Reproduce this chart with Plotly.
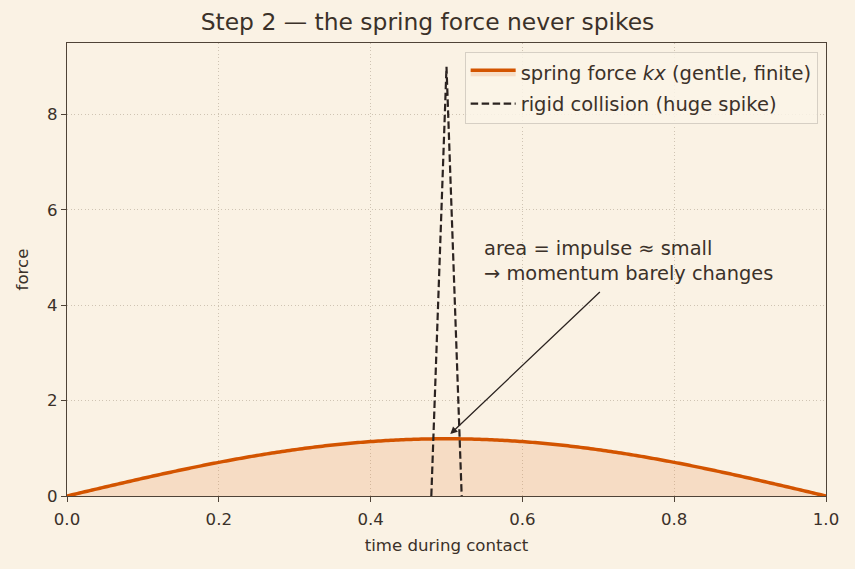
import numpy as np
import plotly.graph_objects as go

# data
t = np.linspace(0, 1, 301)
spring_peak = 1.2
spring_force = spring_peak * np.sin(np.pi * t)
spike_t = [0.48, 0.50, 0.52]
spike_f = [0.0, 9.0, 0.0]
x_ticks = [0.0, 0.2, 0.4, 0.6, 0.8, 1.0]
y_ticks = [0, 2, 4, 6, 8]

BG = "#faf2e4"
TXT = "#3b3129"
ORANGE = "#d35400"
DARK = "#2b2320"
GRID = "#cfc4b3"
SPINE = "#4f4337"
FONT = "DejaVu Sans"

fig = go.Figure()
fig.add_trace(go.Scatter(x=t, y=spring_force, mode="lines", fill="tozeroy",
                         fillcolor="rgba(230,140,80,0.22)",
                         line=dict(color=ORANGE, width=3.5, simplify=False),
                         legendgroup="a",
                         name="spring force <i>kx</i> (gentle, finite)"))
fig.add_trace(go.Scatter(x=spike_t, y=spike_f, mode="lines",
                         line=dict(color=DARK, width=2.2, dash="7.5px,3.5px"),
                         legendgroup="b",
                         name="rigid collision (huge spike)"))

fig.add_annotation(x=0.505, y=1.3, ax=0.704, ay=4.31, xref="x", yref="y",
                   axref="x", ayref="y", text="", showarrow=True,
                   arrowhead=2, arrowsize=1.1, arrowwidth=1.3, arrowcolor=DARK)
fig.add_annotation(x=0.547, y=4.38, xref="x", yref="y", xanchor="left", yanchor="bottom",
                   text="area = impulse ≈ small<br>→ momentum barely changes",
                   showarrow=False, align="left",
                   font=dict(family=FONT, size=19.4, color=TXT))

axis_common = dict(showline=True, linecolor=SPINE, linewidth=1.3, mirror=True,
                   ticks="outside", ticklen=5, tickcolor=SPINE,
                   showgrid=True, gridcolor=GRID, griddash="1px,2.5px", gridwidth=1,
                   zeroline=False, automargin=False,
                   tickfont=dict(family=FONT, size=16.6, color=TXT),
                   title_font=dict(family=FONT, size=16.6, color=TXT))

fig.update_xaxes(range=[0, 1], tickvals=x_ticks, tickformat=".1f", ticklabelstandoff=3,
                 title_text="time during contact", title_standoff=11, **axis_common)
fig.update_yaxes(range=[0, 9.5], tickvals=y_ticks,
                 title_text="force", title_standoff=14, **axis_common)

fig.update_layout(
    width=855, height=569,
    paper_bgcolor=BG, plot_bgcolor=BG,
    margin=dict(l=67, r=29, t=43, b=73),
    title=dict(text="Step 2 — the spring force never spikes", x=0.5, xanchor="center",
               y=0.962, yanchor="middle",
               font=dict(family=FONT, size=23.4, color=TXT)),
    showlegend=True,
    legend=dict(x=0.989, y=0.98, xanchor="right", yanchor="top", itemwidth=45,
                bgcolor="rgba(250,244,232,0.85)", bordercolor="#d6cfc4", borderwidth=1,
                font=dict(family=FONT, size=19.5, color=TXT), tracegroupgap=3),
)

fig.write_html("out.html")
